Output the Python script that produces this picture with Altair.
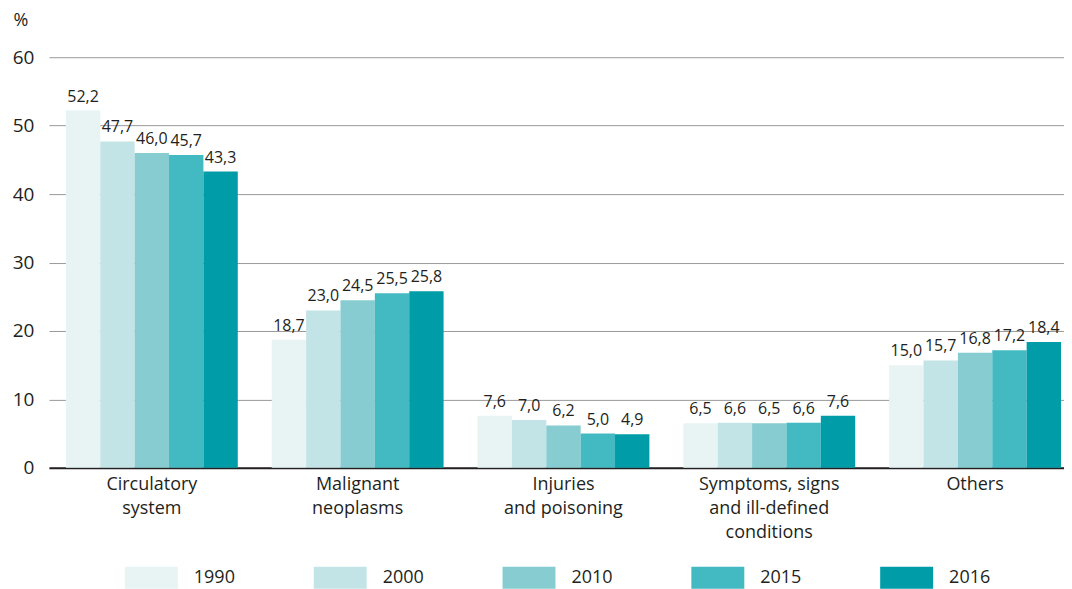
import altair as alt
import pandas as pd

categories = ["Circulatory|system", "Malignant|neoplasms", "Injuries|and poisoning",
              "Symptoms, signs|and ill-defined|conditions", "Others"]
years = ["1990", "2000", "2010", "2015", "2016"]
v1990 = [52.2, 18.7, 7.6, 6.5, 15.0]
v2000 = [47.7, 23.0, 7.0, 6.6, 15.7]
v2010 = [46.0, 24.5, 6.2, 6.5, 16.8]
v2015 = [45.7, 25.5, 5.0, 6.6, 17.2]
v2016 = [43.3, 25.8, 4.9, 7.6, 18.4]
colors = ["#e8f4f4", "#c3e4e6", "#86ccd1", "#43b9c1", "#009ca8"]

series = [v1990, v2000, v2010, v2015, v2016]
rows = []
for y, vals in zip(years, series):
    for c, v in zip(categories, vals):
        rows.append({"category": c, "year": y, "value": v})
df = pd.DataFrame(rows)

FONT = "Open Sans"
TXT = "#231f20"

xscale = alt.Scale(paddingInner=0.165, paddingOuter=0.0485, align=0.85)
xenc = alt.X("category:N", sort=categories, scale=xscale,
             axis=alt.Axis(title=None, labelAngle=0, ticks=False, domainColor=TXT, domainWidth=2,
                           labelExpr="split(datum.label, '|')", labelFontSize=18,
                           labelLineHeight=24, labelPadding=8, labelColor=TXT, labelFont=FONT))
xoff = alt.XOffset("year:N", sort=years, scale=alt.Scale(paddingInner=0, paddingOuter=0))

bars = alt.Chart(df).mark_bar().encode(
    x=xenc,
    xOffset=xoff,
    y=alt.Y("value:Q", scale=alt.Scale(domain=[0, 60]),
            axis=alt.Axis(values=[0, 10, 20, 30, 40, 50, 60], title="%", titleAngle=0,
                          titleAlign="left", titleBaseline="top", titleX=-36, titleY=-46,
                          titleFont=FONT, titleFontSize=18, titleFontWeight="normal", titleColor=TXT,
                          domain=False, ticks=False, labelPadding=15, labelFontSize=19,
                          labelColor=TXT, labelFont=FONT, gridColor="#9a9a9a", gridWidth=1)),
    color=alt.Color("year:N", sort=years, scale=alt.Scale(domain=years, range=colors),
                    legend=alt.Legend(title=None, orient="none", legendX=92.5, legendY=511,
                                      direction="horizontal", columns=5, columnPadding=78,
                                      symbolType="M-2.65,-1.1H2.65V1.1H-2.65Z", symbolSize=400,
                                      symbolStrokeWidth=0, symbolOpacity=1,
                                      labelOffset=32.5, labelFontSize=18, labelFont=FONT,
                                      labelColor=TXT)),
)

labels = alt.Chart(df).transform_calculate(
    lbl="replace(format(datum.value, '.1f'), '.', ',')"
).mark_text(baseline="alphabetic", dy=-9, fontSize=16, font=FONT, color=TXT).encode(
    x=alt.X("category:N", sort=categories, scale=xscale),
    xOffset=alt.XOffset("year:N", sort=years),
    y="value:Q",
    text="lbl:N",
)

chart = alt.layer(bars, labels).properties(
    width=1016, height=411,
    padding={"left": 4, "top": 3, "right": 0, "bottom": 0},
).configure_view(stroke=None).configure_axisX(grid=False)

chart.save("out.html", embed_options={"renderer": "svg", "actions": False})
